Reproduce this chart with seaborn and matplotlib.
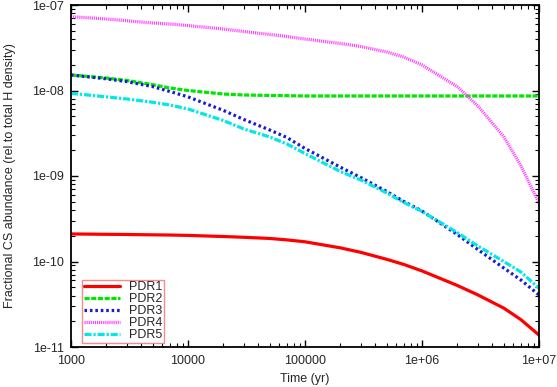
import numpy as np
import pandas as pd
import seaborn as sns
import matplotlib
matplotlib.use("Agg")
import matplotlib.pyplot as plt
from matplotlib.ticker import FixedLocator, FixedFormatter, LogLocator, NullFormatter

# time grid (yr)
time_yr = [1e3, 2e3, 3e3, 5e3, 7e3,
           1e4, 2e4, 3e4, 5e4, 7e4,
           1e5, 2e5, 3e5, 5e5, 7e5,
           1e6, 2e6, 3e6, 5e6, 7e6, 1e7]

pdr1 = [2.10e-10, 2.08e-10, 2.07e-10, 2.05e-10, 2.04e-10,
        2.02e-10, 1.96e-10, 1.92e-10, 1.86e-10, 1.79e-10,
        1.70e-10, 1.445e-10, 1.28e-10, 1.06e-10, 9.23e-11,
        7.76e-11, 5.25e-11, 4.07e-11, 2.85e-11, 2.09e-11, 1.38e-11]
pdr2 = [1.52e-8, 1.40e-8, 1.31e-8, 1.17e-8, 1.07e-8,
        1.00e-8, 9.10e-9, 8.86e-9, 8.75e-9, 8.70e-9,
        8.63e-9, 8.63e-9, 8.63e-9, 8.63e-9, 8.63e-9,
        8.63e-9, 8.63e-9, 8.63e-9, 8.63e-9, 8.63e-9, 8.63e-9]
pdr3 = [1.52e-8, 1.37e-8, 1.27e-8, 1.11e-8, 9.73e-9,
        8.43e-9, 5.86e-9, 4.58e-9, 3.45e-9, 2.82e-9,
        2.10e-9, 1.27e-9, 9.59e-10, 6.59e-10, 5.03e-10,
        3.90e-10, 2.07e-10, 1.38e-10, 8.39e-11, 6.08e-11, 4.06e-11]
pdr4 = [7.30e-8, 6.86e-8, 6.55e-8, 6.16e-8, 5.99e-8,
        5.75e-8, 5.24e-8, 4.90e-8, 4.52e-8, 4.28e-8,
        4.00e-8, 3.55e-8, 3.27e-8, 2.82e-8, 2.46e-8,
        1.99e-8, 1.11e-8, 6.60e-9, 2.88e-9, 1.32e-9, 4.83e-10]
pdr5 = [9.27e-9, 8.43e-9, 7.96e-9, 7.28e-9, 6.77e-9,
        6.08e-9, 4.46e-9, 3.55e-9, 2.86e-9, 2.37e-9,
        1.83e-9, 1.13e-9, 8.98e-10, 6.32e-10, 4.90e-10,
        3.85e-10, 2.18e-10, 1.52e-10, 1.00e-10, 7.54e-11, 4.86e-11]

names = ["PDR1", "PDR2", "PDR3", "PDR4", "PDR5"]
x_ticks = [1e3, 1e4, 1e5, 1e6, 1e7]
x_labels = ["1000", "10000", "100000", "1e+06", "1e+07"]
y_ticks = [1e-11, 1e-10, 1e-9, 1e-8, 1e-7]
y_labels = ["1e-11", "1e-10", "1e-09", "1e-08", "1e-07"]

frames = []
for name, vals in zip(names, [pdr1, pdr2, pdr3, pdr4, pdr5]):
    frames.append(pd.DataFrame({"time": time_yr, "abund": vals, "model": name}))
df = pd.concat(frames, ignore_index=True)

sns.set_style("ticks")
plt.rcParams["font.family"] = ["Liberation Sans", "DejaVu Sans"]

palette = {"PDR1": "#ff0000", "PDR2": "#00e600", "PDR3": "#1a1ad0",
           "PDR4": "#ff40ff", "PDR5": "#00e8e8"}
dashes = {"PDR1": "", "PDR2": (1.6, 0.5), "PDR3": (0.8, 0.9),
          "PDR4": (0.35, 0.3), "PDR5": (2.2, 0.6, 0.7, 0.6)}

fig = plt.figure(figsize=(5.57, 3.87), dpi=100)
ax = fig.add_axes([71 / 557, 1 - 347 / 387, 468 / 557, 342 / 387])

sns.lineplot(data=df, x="time", y="abund", hue="model", style="model",
             palette=palette, dashes=dashes, linewidth=2.3, ax=ax)

ax.set_xscale("log")
ax.set_yscale("log")
ax.set_xlim(1e3, 1e7)
ax.set_ylim(1e-11, 1e-7)

ax.xaxis.set_major_locator(FixedLocator(x_ticks))
ax.xaxis.set_major_formatter(FixedFormatter(x_labels))
ax.yaxis.set_major_locator(FixedLocator(y_ticks))
ax.yaxis.set_major_formatter(FixedFormatter(y_labels))
ax.xaxis.set_minor_locator(LogLocator(base=10, subs=np.arange(2, 10), numticks=20))
ax.yaxis.set_minor_locator(LogLocator(base=10, subs=np.arange(2, 10), numticks=20))
ax.xaxis.set_minor_formatter(NullFormatter())
ax.yaxis.set_minor_formatter(NullFormatter())

ax.tick_params(which="both", direction="in", top=True, right=True, labelsize=9, color="black")
ax.tick_params(which="major", length=5, width=1)
ax.tick_params(which="minor", length=2.8, width=0.8)
ax.tick_params(axis="x", pad=6)
ax.tick_params(axis="y", pad=5)
for s in ax.spines.values():
    s.set_linewidth(1.3)
    s.set_color("black")

ax.set_xlabel("Time (yr)", fontsize=9, labelpad=4)
ax.set_ylabel("Fractional CS abundance (rel.to total H density)", fontsize=9, labelpad=12)

handles, labels = ax.get_legend_handles_labels()
leg = ax.legend(handles, labels, loc="lower left", bbox_to_anchor=(0.015, 0.0),
                fontsize=9, frameon=True, fancybox=False, handlelength=2.9,
                handletextpad=0.7, labelspacing=0.0, borderpad=0.15,
                borderaxespad=0.3)
leg.get_frame().set_edgecolor("#f07070")
leg.get_frame().set_linewidth(1.0)

fig.savefig("out.png", dpi=100)
